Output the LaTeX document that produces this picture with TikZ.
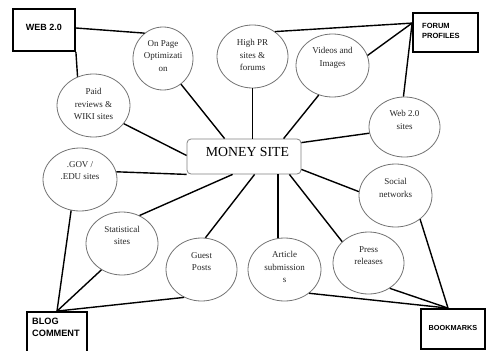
\documentclass[tikz,border=0pt]{standalone}
\usepackage{fontspec}
\setmainfont{Liberation Serif}
\setsansfont{Liberation Sans}
\usetikzlibrary{shapes.geometric}
\begin{document}
\begin{tikzpicture}[x=1pt,y=-1pt,
  bub/.style={ellipse,draw=black!55,line width=0.8pt,inner sep=0pt,fill=white},
  btxt/.style={align=center,inner sep=0pt,text=black!85,font=\fontsize{9}{12.5}\selectfont},
  sbox/.style={draw=black,line width=1.8pt,inner sep=0pt,fill=white},
  stxt/.style={align=left,inner sep=0pt,font=\sffamily\bfseries},
  conn/.style={draw=black,line width=1.4pt},
  money/.style={draw=black!50,line width=0.8pt,rounded corners=4pt,minimum width=114pt,minimum height=35pt,inner sep=0pt,fill=white}
]
\useasboundingbox (0,0) rectangle (486,350);

% central node
\node[money] (ms) at (244,156.5) {};
\node[inner sep=0pt,font=\fontsize{13.8}{16}\selectfont] (mst) at (247.5,152) {MONEY SITE};

% ellipses
\node[bub,minimum width=60pt,minimum height=63pt] (op) at (163,58.5) {};
\node[bub,minimum width=71pt,minimum height=63pt] (hpr) at (252.5,56.5) {};
\node[bub,minimum width=73pt,minimum height=63pt] (vid) at (332.5,65.5) {};
\node[bub,minimum width=71pt,minimum height=60pt] (w20) at (404.5,127) {};
\node[bub,minimum width=73pt,minimum height=63pt] (soc) at (395.5,195.5) {};
\node[bub,minimum width=71pt,minimum height=62pt] (pr) at (368.5,263) {};
\node[bub,minimum width=73pt,minimum height=63pt] (art) at (284.5,269.5) {};
\node[bub,minimum width=71pt,minimum height=63pt] (gp) at (201.5,269.5) {};
\node[bub,minimum width=72pt,minimum height=63pt] (st) at (122,243.5) {};
\node[bub,minimum width=74pt,minimum height=63pt] (gov) at (80,179.5) {};
\node[bub,minimum width=73pt,minimum height=63pt] (paid) at (93.5,105.5) {};

% ellipse texts
\node[btxt] (opt) at (163,56) {On Page\\Optimizati\\on};
\node[btxt] (hprt) at (252.5,55) {High PR\\sites \&\\forums};
\node[btxt] (vidt) at (332.5,58) {Videos and\\Images};
\node[btxt] (w20t) at (404.5,120) {Web 2.0\\sites};
\node[btxt] (soct) at (395.5,188) {Social\\networks};
\node[btxt] (prt) at (368.5,255.5) {Press\\releases};
\node[btxt] (artt) at (284.5,267) {Article\\submission\\s};
\node[btxt] (gpt) at (201.5,261.5) {Guest\\Posts};
\node[btxt] (stt) at (122,235.5) {Statistical\\sites};
\node[btxt] (govt) at (80,170.5) {.GOV /\\.EDU sites};
\node[btxt] (paidt) at (93.5,104) {Paid\\reviews \&\\WIKI sites};

% corner boxes
\node[sbox,minimum width=62pt,minimum height=42pt] (web) at (44,30) {};
\node[stxt,font=\sffamily\bfseries\fontsize{9}{11}\selectfont] (webt) at (44,27) {WEB 2.0};
\node[sbox,minimum width=65pt,minimum height=39pt] (fp) at (445.5,32.5) {};
\node[stxt,anchor=north west,font=\sffamily\bfseries\fontsize{7.5}{10}\selectfont] (fpt) at (422,23.5) {FORUM\\PROFILES};
\node[sbox,minimum width=60pt,minimum height=46pt] (bc) at (57,335) {};
\node[stxt,anchor=north west,font=\sffamily\bfseries\fontsize{9.2}{12}\selectfont] (bct) at (32,317.5) {BLOG\\COMMENT};
\node[sbox,minimum width=64pt,minimum height=40pt] (bm) at (453,329) {};
\node[stxt,font=\sffamily\bfseries\fontsize{7.3}{9}\selectfont] (bmt) at (453,327.5) {BOOKMARKS};

% hub coordinates on boxes
\coordinate (fph) at ([yshift=-11pt]fp.north west);
\coordinate (bch) at (bc.north);
\coordinate (bmh) at ([xshift=-5pt]bm.north);

\begin{scope}[on background layer/.style={}]
% money site connectors
\draw[conn] ([xshift=38pt]ms.north west) -- (op.-55);
\draw[conn] ([yshift=1pt]ms.west) -- (paid.-31);
\draw[conn] (ms.south west) -- (gov.12);
\draw[conn] (hpr.south) -- (hpr.south |- ms.north);
\draw[conn] ([xshift=97pt]ms.north west) -- (vid.-115);
\draw[conn] ([yshift=-4pt]ms.north east) -- (w20.190);
\draw[conn] ([yshift=5pt]ms.south east) -- (soc.174);
\draw[conn] ([xshift=46pt]ms.south west) -- (st.58);
\draw[conn] ([xshift=68pt]ms.south west) -- (gp.83);
\draw[conn] (art.102) -- (art.102 |- ms.south);
\draw[conn] ([xshift=-12pt]ms.south east) -- (pr.141);

% WEB 2.0
\draw[conn] ([yshift=2pt]web.east) -- (op.126);
\draw[conn] (web.south east) -- (paid.119);

% FORUM PROFILES
\draw[conn] (fph) -- (hpr.48);
\draw[conn] (fph) -- (vid.16);
\draw[conn] (fph) -- (w20.92);

% BLOG COMMENT
\draw[conn] (bch) -- (gov.-106);
\draw[conn] (bch) -- (st.-128);
\draw[conn] (bch) -- (gp.-122);

% BOOKMARKS
\draw[conn] (bmh) -- (art.-44);
\draw[conn] (bmh) -- (pr.-50);
\draw[conn] (bmh) -- (soc.-44);
\end{scope}
\end{tikzpicture}
\end{document}
